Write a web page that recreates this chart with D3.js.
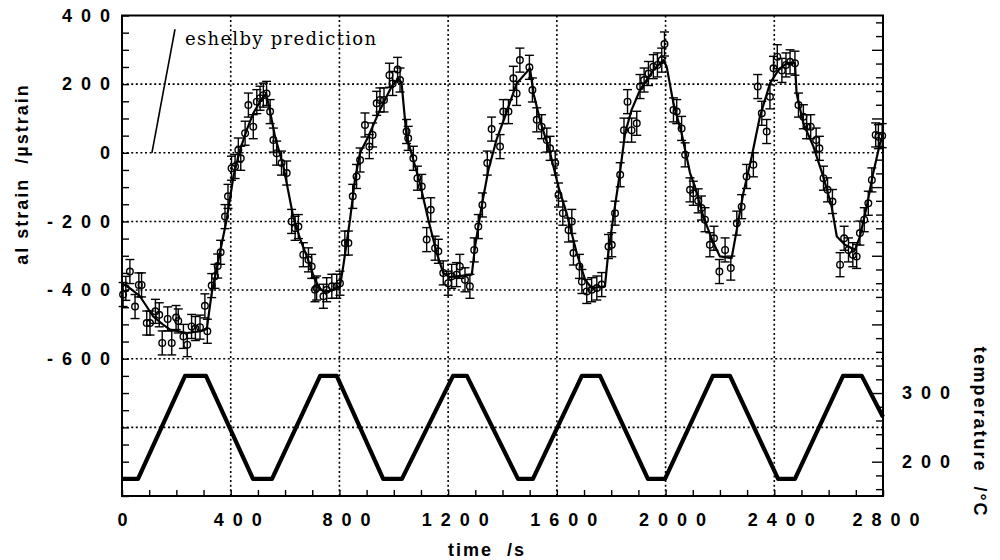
<!DOCTYPE html>
<html>
<head>
<meta charset="utf-8">
<script src="https://cdn.jsdelivr.net/npm/d3@7"></script>
<style>
  body { margin: 0; background: #fff; }
  svg { display: block; }
  .lab { font-family: "Liberation Sans", Arial, sans-serif; font-weight: bold; font-size: 18px; letter-spacing: 9px; fill: #000; }
  .ttl { font-family: "Liberation Sans", Arial, sans-serif; font-weight: bold; font-size: 18px; letter-spacing: 2px; white-space: pre; fill: #000; }
  .note { font-family: "DejaVu Serif", "Liberation Serif", serif; font-size: 18px; fill: #000; }
</style>
</head>
<body>
<script>
// ---- data ----
const timeTicks   = [0, 400, 800, 1200, 1600, 2000, 2400, 2800];
const strainTicks = [400, 200, 0, -200, -400, -600];
const tempTicks   = [200, 300];
const gridStrain  = [200, 0, -200, -400, -600, -800];
const gridTime    = [400, 800, 1200, 1600, 2000, 2400];

// temperature programme (deg C)
const tempTime = [0, 59, 232, 309, 482, 552, 729, 790, 961, 1030, 1218, 1269, 1457, 1512,
                  1692, 1759, 1935, 1998, 2174, 2237, 2414, 2476, 2653, 2722, 2800];
const tempVal  = [175, 175, 325, 325, 175, 175, 325, 325, 175, 175, 325, 325, 175, 175,
                  325, 325, 175, 175, 325, 325, 175, 175, 325, 325, 265];

// fitted strain curve (microstrain)
const fitTime   = [0, 30, 66, 115, 150, 177, 238, 290, 312, 330, 345, 360, 385, 410, 434, 459, 483, 508, 530,
                   545, 563, 594, 630, 655, 680, 710, 728, 741, 770, 802, 814, 839, 857, 876, 906, 949, 992,
                   1017, 1029, 1047, 1072, 1096, 1127, 1158, 1182, 1205, 1231, 1287, 1299, 1323, 1348, 1378,
                   1409, 1452, 1501, 1515, 1540, 1575, 1606, 1636, 1673, 1704, 1728, 1777, 1789, 1808, 1832,
                   1851, 1875, 1906, 1955, 1992, 2004, 2029, 2059, 2090, 2108, 2139, 2176, 2200, 2243, 2262,
                   2286, 2317, 2347, 2384, 2415, 2446, 2476, 2482, 2507, 2544, 2580, 2611, 2630, 2660, 2697,
                   2715, 2740, 2764, 2789, 2800];
const fitStrain = [-380, -395, -418, -477, -500, -515, -525, -520, -513, -409, -350, -292, -195, -69, 8, 67, 115, 149, 172,
                   120, 47, -40, -186, -250, -302, -370, -395, -404, -402, -389, -331, -195, -79, 0, 47, 125, 193,
                   217, 200, 47, -21, -88, -195, -292, -350, -362, -360, -355, -273, -157, -50, 38,
                   105, 202, 246, 170, 90, 0, -100, -176, -292, -370, -394, -389, -292, -186, -59,
                   57, 125, 183, 241, 270, 251, 144, 57, -59, -98, -186, -263, -302, -307, -224,
                   -118, -11, 105, 202, 241, 261, 261, 173, 86, 18, -69, -157, -244, -268, -283,
                   -244, -157, -59, 28, 52];

// measured points (microstrain)
const ptTime   = [4, 14, 29, 48, 62, 72, 91, 103, 123, 137, 148, 168, 183, 199, 207, 226, 240, 256, 270, 287,
                  305, 314, 330, 342, 352, 363, 379, 390, 403, 416, 428, 437, 453, 465, 483, 496, 508, 520, 532,
                  545, 557, 569, 587, 606, 624, 637, 649, 667, 686, 698, 710, 716, 741, 753, 772, 790, 802, 820,
                  833, 849, 863, 876, 894, 910, 922, 937, 949, 964, 984, 996, 1014, 1023, 1047, 1053, 1072, 1087,
                  1103, 1121, 1136, 1152, 1164, 1182, 1200, 1213, 1231, 1243, 1262, 1280, 1296, 1311, 1326, 1344,
                  1360, 1391, 1403, 1422, 1440, 1452, 1464, 1499, 1510, 1526, 1544, 1563, 1575, 1594, 1606, 1622,
                  1643, 1655, 1661, 1683, 1692, 1710, 1728, 1747, 1765, 1790, 1802, 1814, 1833, 1847, 1860, 1875,
                  1894, 1906, 1921, 1937, 1955, 1970, 1986, 1996, 2029, 2041, 2059, 2072, 2090, 2102, 2120, 2132,
                  2145, 2163, 2178, 2198, 2219, 2240, 2262, 2280, 2298, 2323, 2339, 2354, 2372, 2384, 2397, 2411,
                  2428, 2443, 2458, 2476, 2489, 2507, 2519, 2534, 2554, 2566, 2581, 2596, 2614, 2642, 2657, 2673,
                  2689, 2703, 2715, 2731, 2746, 2759, 2773, 2783, 2797];
const ptStrain = [-413, -395, -346, -448, -385, -385, -496, -496, -462, -472, -554, -484, -554, -480, -490, -535, -559, -506, -512, -508,
                  -446, -520, -387, -360, -330, -290, -186, -127, -45, -40, 8, -16, 57, 139, 76, 149, 159, 168, 173,
                  120, 37, -1, -30, -59, -200, -220, -215, -297, -312, -331, -399, -394, -418, -399, -389, -389, -380, -263,
                  -263, -127, -69, -21, 81, 18, 52, 144, 154, 154, 226, 202, 243, 212, 62, 42, -16, -74,
                  -98, -253, -166, -278, -287, -350, -380, -360, -355, -331, -370, -389, -283, -215, -152, -30,
                  69, 18, 120, 120, 217, 173, 270, 249, 183, 96, 76, 37, 13, -30, -123, -176,
                  -225, -200, -292, -331, -375, -404, -399, -394, -384, -273, -268, -176, -64, 66, 149, 66,
                  86, 193, 212, 231, 251, 256, 270, 317, 125, 120, 71, -6, -108, -118, -140, -161,
                  -195, -268, -249, -346, -283, -336, -205, -157, -69, -35, 193, 115, 62, 163, 246, 280,
                  240, 256, 265, 261, 139, 105, 76, 76, 37, 13, -74, -108, -142, -326, -249, -283,
                  -297, -302, -234, -195, -147, -79, 52, 47, 50];
const errBar = 35;

// eshelby prediction slope line
const eshelbyTime   = [110, 195];
const eshelbyStrain = [0, 360];

// ---- drawing ----
const W = 1000, H = 560;
const L = 122, R = 883, T = 15.5, B = 496;

const svg = d3.select("body").append("svg").attr("width", W).attr("height", H);

const x = d3.scaleLinear().domain([0, 2800]).range([L, R]);
const y = d3.scaleLinear().domain([-1000, 400]).range([B, T]);
const yT = d3.scaleLinear().domain([150, 850]).range([B, T]);

// grid
const grid = svg.append("g").attr("stroke", "#000").attr("stroke-width", 1.6)
  .attr("stroke-dasharray", "2,2.6").attr("fill", "none");
grid.selectAll("line.h").data(gridStrain).enter().append("line")
  .attr("x1", L).attr("x2", R).attr("y1", d => y(d)).attr("y2", d => y(d));
grid.selectAll("line.v").data(gridTime).enter().append("line")
  .attr("y1", T).attr("y2", B).attr("x1", d => x(d)).attr("x2", d => x(d));

// temperature trace
const tempData = tempTime.map((t, i) => [t, tempVal[i]]);
svg.append("path").datum(tempData)
  .attr("fill", "none").attr("stroke", "#000").attr("stroke-width", 4.2)
  .attr("stroke-linejoin", "round")
  .attr("d", d3.line().x(d => x(d[0])).y(d => yT(d[1])));

// fitted curve
const fitData = fitTime.map((t, i) => [t, fitStrain[i]]);
svg.append("path").datum(fitData)
  .attr("fill", "none").attr("stroke", "#000").attr("stroke-width", 2.2)
  .attr("stroke-linejoin", "round")
  .attr("d", d3.line().x(d => x(d[0])).y(d => y(d[1])));

// error bars + points
const pts = ptTime.map((t, i) => ({t: t, s: ptStrain[i]}));
const eb = svg.append("g").attr("stroke", "#000").attr("stroke-width", 1.4);
eb.selectAll("line.bar").data(pts).enter().append("line")
  .attr("x1", d => x(d.t)).attr("x2", d => x(d.t))
  .attr("y1", d => y(d.s - errBar)).attr("y2", d => y(d.s + errBar));
eb.selectAll("line.top").data(pts).enter().append("line")
  .attr("x1", d => x(d.t) - 4.5).attr("x2", d => x(d.t) + 4.5)
  .attr("y1", d => y(d.s + errBar)).attr("y2", d => y(d.s + errBar));
eb.selectAll("line.bot").data(pts).enter().append("line")
  .attr("x1", d => x(d.t) - 4.5).attr("x2", d => x(d.t) + 4.5)
  .attr("y1", d => y(d.s - errBar)).attr("y2", d => y(d.s - errBar));
svg.append("g").selectAll("circle").data(pts).enter().append("circle")
  .attr("cx", d => x(d.t)).attr("cy", d => y(d.s)).attr("r", 3.3)
  .attr("fill", "none").attr("stroke", "#000").attr("stroke-width", 1.4);

// eshelby prediction
svg.append("line")
  .attr("x1", x(eshelbyTime[0])).attr("y1", y(eshelbyStrain[0]))
  .attr("x2", x(eshelbyTime[1])).attr("y2", y(eshelbyStrain[1]))
  .attr("stroke", "#000").attr("stroke-width", 1.6);
svg.append("text").attr("class", "note")
  .attr("x", 185).attr("y", 45).attr("textLength", 191)
  .text("eshelby prediction");

// axes: inward minor ticks
const leftTicks = svg.append("g").attr("transform", `translate(${L},0)`)
  .call(d3.axisRight(y).tickValues(d3.range(-1000, 401, 50)).tickSize(7).tickFormat(""));
const botTicks = svg.append("g").attr("transform", `translate(0,${B})`)
  .call(d3.axisTop(x).tickValues(d3.range(0, 2801, 100)).tickSize(6).tickFormat(""));
const rightTicks = svg.append("g").attr("transform", `translate(${R},0)`)
  .call(d3.axisLeft(yT).tickValues(d3.range(160, 850, 20)).tickSize(7).tickFormat(""));
rightTicks.selectAll(".tick line").filter(d => d % 100 === 0).attr("x2", -11);
[leftTicks, botTicks, rightTicks].forEach(g => {
  g.selectAll(".domain").remove();
  g.selectAll(".tick line").attr("stroke", "#000").attr("stroke-width", 1.4);
});

// frame
svg.append("rect").attr("x", L).attr("y", T).attr("width", R - L).attr("height", B - T)
  .attr("fill", "none").attr("stroke", "#000").attr("stroke-width", 2);

// tick labels
const leftLab = svg.append("g").attr("transform", `translate(${L},0)`)
  .call(d3.axisLeft(y).tickValues(strainTicks).tickSize(0).tickPadding(3).tickFormat(d => String(d)));
const botLab = svg.append("g").attr("transform", `translate(0,${B})`)
  .call(d3.axisBottom(x).tickValues(timeTicks).tickSize(0).tickPadding(17).tickFormat(d => String(d)));
botLab.selectAll(".tick text").attr("dx", d => d === 0 ? 4.5 : (d === 2800 ? 7 : 11));
const rightLab = svg.append("g").attr("transform", `translate(${R},0)`)
  .call(d3.axisRight(yT).tickValues(tempTicks).tickSize(0).tickPadding(19).tickFormat(d => String(d)));
[leftLab, botLab, rightLab].forEach(g => {
  g.selectAll(".domain").remove();
  g.attr("font-family", null).attr("font-size", null);
  g.selectAll(".tick text").attr("class", "lab");
});

// axis titles
svg.append("text").attr("class", "ttl")
  .attr("transform", "translate(28,174) rotate(-90)").attr("text-anchor", "middle")
  .text("al strain  /µstrain");
svg.append("text").attr("class", "ttl")
  .attr("x", 487).attr("y", 556).attr("text-anchor", "middle")
  .text("time  /s");
svg.append("text").attr("class", "ttl")
  .attr("transform", "translate(974,432) rotate(90)").attr("text-anchor", "middle")
  .text("temperature  /°C");
</script>
</body>
</html>
